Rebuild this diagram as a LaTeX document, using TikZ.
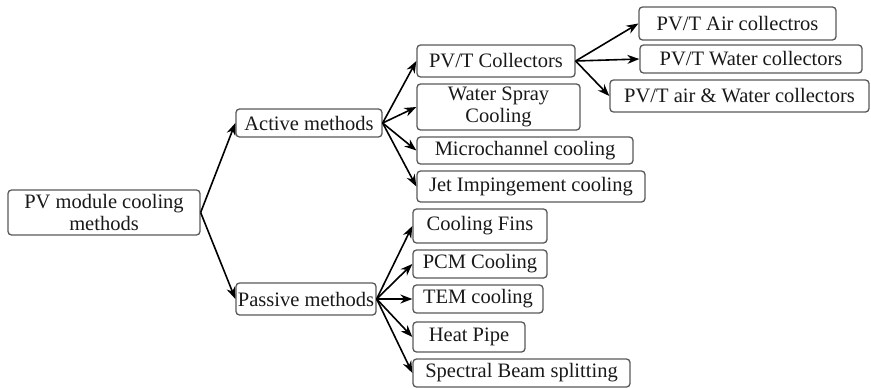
\documentclass[tikz,border=0pt]{standalone}
\usepackage{fontspec}
\setmainfont{Liberation Serif}
\usetikzlibrary{arrows.meta}
\begin{document}
\begin{tikzpicture}[>={Stealth[length=12pt,width=9pt]},x=1pt,y=-1pt,
		box/.style={draw=black!65,line width=1.3pt,rounded corners=3.5pt,inner sep=0pt,align=center,text=black!90,font=\fontsize{20.5}{21.5}\selectfont},
		arr/.style={->,line width=1.6pt,black}]
		\useasboundingbox (0,0) rectangle (871,388);
		\node[box,minimum width=192,minimum height=45] (root) at (104,212.5) {PV module cooling\\methods};
		\node[box,minimum width=146,minimum height=28] (act) at (309,123) {Active methods};
		\node[box,minimum width=140,minimum height=32] (pas) at (306,299) {Passive methods};
		\node[box,minimum width=158,minimum height=32] (pvt) at (496,61) {PV/T Collectors};
		\node[box,minimum width=163,minimum height=46] (spray) at (498.5,107) {Water Spray\\Cooling};
		\node[box,minimum width=216,minimum height=27] (micro) at (525,150.5) {Microchannel cooling};
		\node[box,minimum width=228,minimum height=31] (jet) at (531,186.5) {Jet Impingement cooling};
		\node[box,minimum width=134,minimum height=34] (fins) at (480,226) {Cooling Fins};
		\node[box,minimum width=134,minimum height=28] (pcm) at (480,264) {PCM Cooling};
		\node[box,minimum width=130,minimum height=28] (tem) at (478,299) {TEM cooling};
		\node[box,minimum width=112,minimum height=30] (heat) at (469,337) {Heat Pipe};
		\node[box,minimum width=217,minimum height=28] (beam) at (521.5,373) {Spectral Beam splitting};
		\node[box,minimum width=197,minimum height=33] (air) at (737.5,23.5) {PV/T Air collectros};
		\node[box,minimum width=222,minimum height=28] (water) at (751,59) {PV/T Water collectors};
		\node[box,minimum width=259,minimum height=32] (airwater) at (739.5,96) {PV/T air \& Water collectors};
		\draw[arr] (root.east) -- (act.west);
		\draw[arr] (root.east) -- (pas.west);
		\foreach \n in {pvt,spray,micro,jet}
			\draw[arr] (act.east) -- (\n.west);
		\foreach \n in {fins,pcm,tem,heat,beam}
			\draw[arr] (pas.east) -- (\n.west);
		\foreach \n in {air,water,airwater}
			\draw[arr] (pvt.east) -- (\n.west);
		\end{tikzpicture}
\end{document}
